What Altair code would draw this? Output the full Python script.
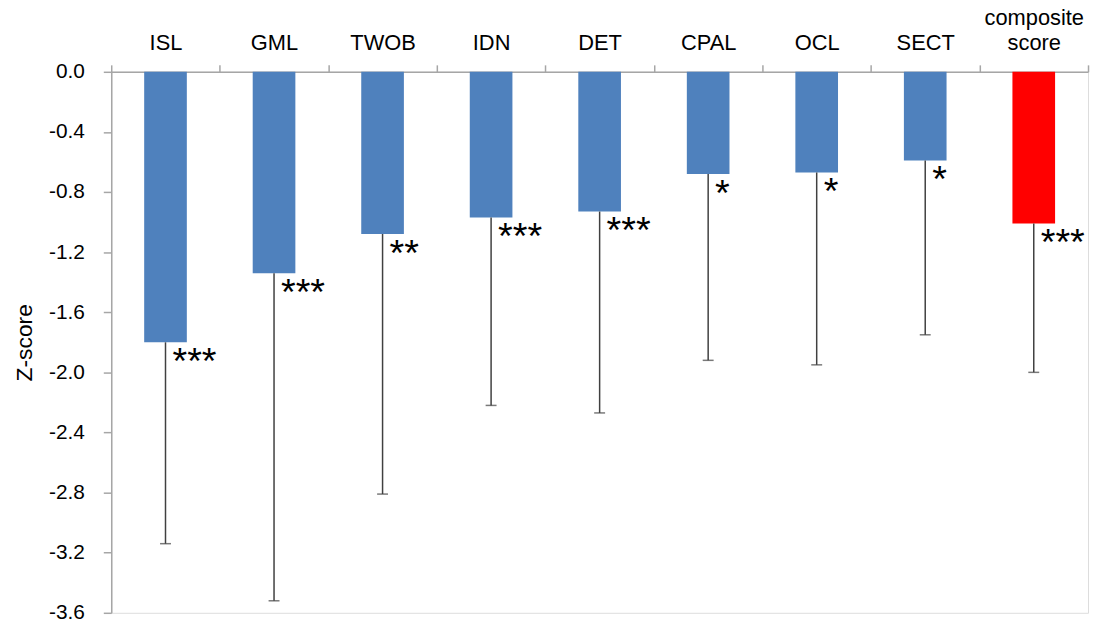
import altair as alt
import pandas as pd

categories = ["ISL", "GML", "TWOB", "IDN", "DET", "CPAL", "OCL", "SECT", "composite score"]
means = [-1.80, -1.34, -1.08, -0.97, -0.93, -0.68, -0.67, -0.59, -1.01]
lower = [-3.14, -3.52, -2.81, -2.22, -2.27, -1.92, -1.95, -1.75, -2.00]
stars = ["***", "***", "**", "***", "***", "*", "*", "*", "***"]
y_ticks = [0.0, -0.4, -0.8, -1.2, -1.6, -2.0, -2.4, -2.8, -3.2, -3.6]

df = pd.DataFrame({"cat": categories, "mean": means, "lower": lower, "stars": stars})

FONT = "Liberation Sans"
AXIS_GRAY = "#A6A6A6"

x_enc = alt.X(
    "cat:N",
    sort=categories,
    scale=alt.Scale(paddingInner=0, paddingOuter=0),
    axis=alt.Axis(
        orient="top",
        title=None,
        tickBand="extent",
        labelExpr="datum.value == 'composite score' ? ['composite', 'score'] : ['', datum.value]",
        labelFontSize=22,
        labelFont=FONT,
        labelColor="black",
        labelPadding=36,
        labelAngle=0,
        labelOverlap=False,
        labelLineHeight=26,
        tickSize=7,
        tickColor=AXIS_GRAY,
        domainColor=AXIS_GRAY,
        tickWidth=1.5,
        domainWidth=1.5,
    ),
)

y_axis = alt.Axis(
    values=y_ticks,
    labelExpr="(datum.value < 0 ? '-' : '') + format(abs(datum.value), '.1f')",
    title="Z-score",
    titleFont=FONT,
    titleFontSize=23,
    titleFontWeight="normal",
    titleColor="black",
    titlePadding=12,
    labelFont=FONT,
    labelFontSize=21,
    labelColor="black",
    labelPadding=19,
    tickSize=8,
    tickColor=AXIS_GRAY,
    domainColor=AXIS_GRAY,
    tickWidth=1.5,
    domainWidth=1.5,
    grid=False,
)
y_scale = alt.Scale(domain=[-3.6, 0], nice=False, zero=False)

base = alt.Chart(df)

bars = base.mark_bar(width={"band": 0.393}).encode(
    x=x_enc,
    y=alt.Y("mean:Q", scale=y_scale, axis=y_axis),
    y2=alt.Y2(datum=0),
    color=alt.condition(alt.datum.cat == "composite score", alt.value("#FF0000"), alt.value("#4F81BD")),
)

rules = base.mark_rule(color="#404040", strokeWidth=1.5).encode(
    x=alt.X("cat:N", sort=categories),
    y=alt.Y("mean:Q", title="Z-score"),
    y2="lower:Q",
)

caps = base.mark_tick(color="#404040", size=11, thickness=1.5).encode(
    x=alt.X("cat:N", sort=categories),
    y=alt.Y("lower:Q", title="Z-score"),
)

labels = base.mark_text(
    align="left", baseline="alphabetic", dx=7, dy=32, fontSize=38, font=FONT, color="black"
).encode(
    x=alt.X("cat:N", sort=categories),
    y=alt.Y("mean:Q", title="Z-score"),
    text="stars:N",
)

chart = alt.layer(bars, rules, caps, labels).properties(
    width=984,
    height=545,
    padding={"left": 104, "top": 62, "right": 3, "bottom": 8},
    autosize=alt.AutoSizeParams(type="none"),
).configure_view(stroke=None).configure(background="white")

chart.save("out.html", embed_options={"renderer": "svg", "actions": False})
